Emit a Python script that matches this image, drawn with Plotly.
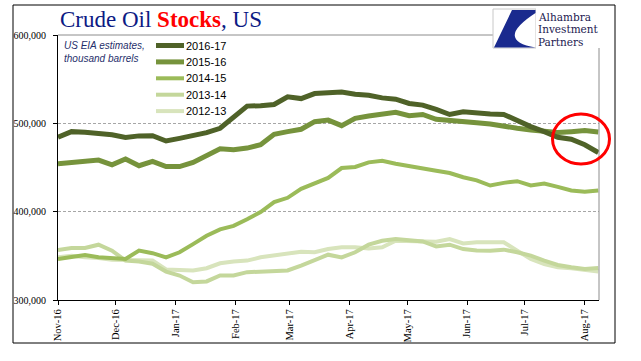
import plotly.graph_objects as go
import pandas as pd

# ---------------- data (thousand barrels, weekly) ----------------
dates = pd.date_range("2016-11-01", periods=41, freq="7D")

s_2016_17 = [484300, 490600, 490000, 488800, 487000, 484000, 485800, 486000, 480000, 483000,
             486000, 489500, 494400, 507500, 519500, 520000, 521300, 530000, 528000, 533700,
             534800, 535500, 533000, 531800, 528800, 527300, 522500, 520600, 515700, 510000,
             513000, 511500, 510500, 510100, 503000, 496300, 490600, 484300, 482000, 475700,
             467000]
s_2015_16 = [454300, 455800, 456000, 458400, 453000, 459600, 452000, 457000, 451000, 451000,
             455800, 463300, 471200, 470000, 472000, 475700, 487600, 490600, 493300, 501900,
             503700, 497400, 505600, 508200, 510000, 512400, 508600, 510000, 504500, 503700,
             501500, 500700, 499300, 496300, 494400, 492500, 490300, 489500, 490600, 491800,
             490300]
s_2014_15 = [346500, 349000, 351000, 348300, 347600, 346500, 356000, 353000, 348300, 354000,
             363300, 372700, 380000, 383900, 391400, 399600, 410900, 415700, 425800, 432600,
             438200, 449400, 450600, 455800, 457700, 454300, 452000, 448700, 446400, 443800,
             439000, 435500, 429600, 432600, 434500, 429600, 431800, 428100, 424000, 422500,
             424000]
s_2013_14 = [356600, 358800, 358800, 362600, 355800, 344600, 343500, 341000, 332200, 327700,
             320000, 321000, 327700, 327700, 331500, 332200, 332600, 333400, 339000, 344600,
             351300, 348300, 354000, 362600, 367000, 369000, 368000, 366300, 360700, 362600,
             357700, 356000, 355800, 357000, 354000, 350200, 344600, 339700, 337100, 335200,
             336300]
s_2012_13 = [348300, 350200, 348300, 347600, 345700, 345300, 344600, 344600, 334500, 333400,
             333400, 336000, 341600, 343500, 344600, 348300, 350200, 353200, 354700, 354000,
             357700, 359600, 359600, 358400, 359600, 367000, 367000, 367000, 365900, 369000,
             364000, 365300, 365300, 365300, 355800, 346500, 340800, 337100, 336000, 334500,
             332200]

series_names = ["2016-17", "2015-16", "2014-15", "2013-14", "2012-13"]
series_values = [s_2016_17, s_2015_16, s_2014_15, s_2013_14, s_2012_13]
series_colors = ["#4F6228", "#76933C", "#9BBB59", "#C4D79B", "#D8E4BC"]
series_widths = [5, 5, 4, 4, 4]

tick_dates = pd.date_range("2016-11-01", "2017-08-01", freq="MS")
tick_labels = [d.strftime("%b-%y") for d in tick_dates]
y_ticks = [300000, 400000, 500000, 600000]

# ---------------- layout helpers (pixel -> paper) ----------------
W, H = 641, 361
L, R, T, B = 58, 599, 35, 300


def px(x):
    return (x - L) / (R - L)


def py(y):
    return (B - y) / (B - T)


fig = go.Figure()
for name, vals, col, w in reversed(list(zip(series_names, series_values, series_colors, series_widths))):
    fig.add_trace(go.Scatter(x=dates, y=vals, name=name, mode="lines",
                             line=dict(color=col, width=w), showlegend=False))

shapes = []
annotations = []

# plot-area grey top/right border
shapes.append(dict(type="line", xref="paper", yref="paper", x0=0, x1=1, y0=1, y1=1,
                   line=dict(color="#8C8C8C", width=1)))
shapes.append(dict(type="line", xref="paper", yref="paper", x0=1, x1=1, y0=0, y1=1,
                   line=dict(color="#8C8C8C", width=1)))
# outer black frame
shapes.append(dict(type="rect", xref="paper", yref="paper", x0=px(13), x1=px(615),
                   y0=py(343), y1=py(5), line=dict(color="black", width=1)))

# manual legend
for k, (name, col, w) in enumerate(zip(series_names, series_colors, series_widths)):
    yc = 45.5 + 16.4 * k
    shapes.append(dict(type="line", xref="paper", yref="paper", x0=px(156), x1=px(184),
                       y0=py(yc), y1=py(yc), line=dict(color=col, width=w)))
    annotations.append(dict(text=name, xref="paper", yref="paper", x=px(184.5), y=py(yc),
                            xanchor="left", yanchor="middle", showarrow=False, borderpad=0,
                            font=dict(family="Liberation Sans", size=11, color="black")))

# note
annotations.append(dict(text="<i>US EIA estimates,<br>thousand barrels</i>", xref="paper", yref="paper",
                        x=px(63), y=py(39), xanchor="left", yanchor="top", align="left",
                        showarrow=False, borderpad=0,
                        font=dict(family="Liberation Sans", size=10, color="#1F2F6B")))

# title
annotations.append(dict(text="Crude Oil <span style='color:#FF0000'><b>Stocks</b></span>, US",
                        xref="paper", yref="paper", x=px(59), y=py(6.5), xanchor="left",
                        yanchor="top", showarrow=False, borderpad=0,
                        font=dict(family="Liberation Serif", size=23, color="#0C1A84")))

# logo
shapes.append(dict(type="rect", xref="paper", yref="paper", x0=px(493), x1=px(536),
                   y0=py(48), y1=py(9), fillcolor="white", line=dict(color="#C8C8C8", width=1),
                   layer="above"))
shapes.append(dict(type="rect", xref="paper", yref="paper", x0=px(536), x1=px(612),
                   y0=py(48), y1=py(9), fillcolor="white", line=dict(width=0), layer="above"))


def P(x, y):
    return f"{px(x):.5f},{py(y):.5f}"


logo_path = (f"M {P(512, 10)} L {P(535.5, 10)} L {P(535.5, 13)} "
             f"Q {P(494, 40)} {P(535.5, 47.5)} L {P(494, 47.5)} Z")
shapes.append(dict(type="path", xref="paper", yref="paper", path=logo_path,
                   fillcolor="#1A2A8E", line=dict(width=0), layer="above"))
for k, word in enumerate(["Alhambra", "Investment", "Partners"]):
    annotations.append(dict(text=word, xref="paper", yref="paper", x=px(537), y=py(17 + 12.4 * k),
                            xanchor="left", yanchor="middle", showarrow=False, borderpad=0,
                            font=dict(family="DejaVu Serif", size=10.5, color="#1C2050")))

# red circle highlight
shapes.append(dict(type="circle", xref="paper", yref="paper", x0=px(552.5), x1=px(609.5),
                   y0=py(164), y1=py(114), line=dict(color="#FF0000", width=3), layer="above"))

fig.update_layout(
    width=W, height=H,
    margin=dict(l=L, r=W - R, t=T, b=H - B, pad=0),
    paper_bgcolor="white", plot_bgcolor="white",
    shapes=shapes, annotations=annotations,
    showlegend=False,
    xaxis=dict(type="date", range=[dates[0], pd.Timestamp("2017-08-08 09:00")],
               tickvals=tick_dates, ticktext=tick_labels, tickangle=-90,
               ticks="outside", ticklen=4, tickcolor="black", showgrid=False,
               showline=True, linecolor="black", linewidth=1, zeroline=False,
               tickfont=dict(family="Liberation Serif", size=10.5, color="black")),
    yaxis=dict(range=[300000, 600000], tickvals=y_ticks, tickformat=",",
               ticks="outside", ticklen=4, tickcolor="black",
               showline=True, linecolor="black", linewidth=1, zeroline=False,
               showgrid=True, gridcolor="#A6A6A6", griddash="3px,2px", gridwidth=1,
               ticklabelstandoff=5,
               tickfont=dict(family="Liberation Serif", size=10, color="black")),
)

fig.write_html("out.html", config={"displayModeBar": False},
               post_script="document.body.style.margin='0';document.body.style.overflow='hidden';")
